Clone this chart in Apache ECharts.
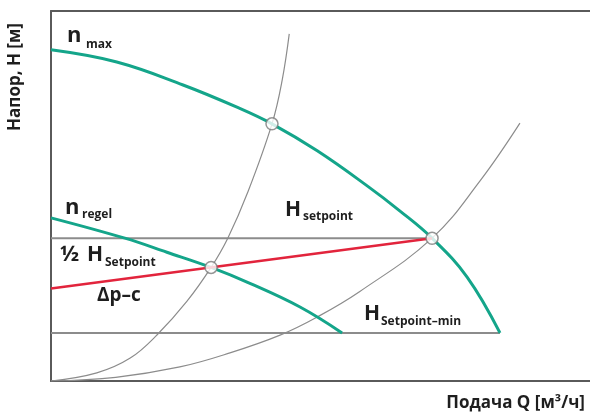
<!DOCTYPE html>
<html><head><meta charset="utf-8">
<script src="https://cdn.jsdelivr.net/npm/echarts@6/dist/echarts.min.js"></script>
<style>html,body{margin:0;padding:0;background:#fff}#chart{width:590px;height:416px}</style>
</head><body><div id="chart"></div>
<script>
// Pump characteristic curves (Q in m³/h, H in m)
const nMaxQ = [0, 1.22, 2.45, 3.45, 4.10, 4.94, 5.86, 6.47, 7.07, 7.72, 8.33];
const nMaxH = [8.95, 8.62, 8.0, 7.40, 6.95, 6.22, 5.28, 4.60, 3.86, 2.81, 1.30];
const nRegelQ = [0, 1.37, 2.15, 2.97, 3.69, 4.62, 5.40];
const nRegelH = [4.41, 3.86, 3.48, 3.07, 2.64, 2.0, 1.30];
// System curves
const sysSteepQ = [0, 0.85, 1.47, 1.97, 2.52, 2.97, 3.28, 3.65, 4.10, 4.29, 4.42];
const sysSteepH = [0, 0.22, 0.62, 1.25, 2.15, 3.07, 3.86, 5.10, 6.95, 8.14, 9.38];
const sysFlatQ = [0, 1.2, 2.39, 3.32, 4.25, 4.94, 5.73, 7.07, 7.96, 8.70];
const sysFlatH = [0, 0.1, 0.38, 0.76, 1.24, 1.73, 2.42, 3.86, 5.41, 6.97];
// Δp-c control line
const dpcQ = [0, 7.07];
const dpcH = [2.5, 3.86];
// Setpoint levels
const hSetpoint = 3.86;
const hSetpointMin = 1.30;
const setpointLineQ = [0, 7.07];
const setpointMinLineQ = [0, 8.33];
// Operating points
const opQ = [4.10, 7.07, 2.97];
const opH = [6.95, 3.86, 3.07];

const zip = (qs, hs) => qs.map((q, i) => [q, hs[i]]);

const GREEN = '#14a58a', RED = '#e2243c', GREY = '#8c8c8c', AXIS = '#5a5a5a', INK = '#1e1e1e';
const FONT = '"Open Sans", "Noto Sans", sans-serif';

function txt(x, y, text, size) {
  return { type: 'text', x: x, y: y, z: 100,
    style: { text: text, fill: INK, font: 'bold ' + size + 'px ' + FONT,
      align: 'left', verticalAlign: 'middle' } };
}

const chart = echarts.init(document.getElementById('chart'), null, { renderer: 'canvas' });
const plainAxis = {
  axisTick: { show: false }, axisLabel: { show: false }, splitLine: { show: false }
};
const frameLine = { show: true, onZero: false, lineStyle: { color: AXIS, width: 2 } };
chart.setOption({
  animation: false,
  backgroundColor: '#ffffff',
  grid: { left: 51, top: 11, right: 0, bottom: 35 },
  xAxis: [
    Object.assign({ type: 'value', min: 0, max: 10, position: 'bottom', axisLine: frameLine }, plainAxis),
    Object.assign({ type: 'value', min: 0, max: 10, position: 'top', axisLine: frameLine }, plainAxis)
  ],
  yAxis: Object.assign({ type: 'value', min: 0, max: 10, axisLine: frameLine }, plainAxis),
  series: [
    { type: 'line', data: setpointLineQ.map(q => [q, hSetpoint]), showSymbol: false,
      lineStyle: { color: GREY, width: 2 }, z: 1 },
    { type: 'line', data: setpointMinLineQ.map(q => [q, hSetpointMin]), showSymbol: false,
      lineStyle: { color: GREY, width: 2 }, z: 1 },
    { type: 'line', data: zip(sysSteepQ, sysSteepH), smooth: 0.4, showSymbol: false,
      lineStyle: { color: GREY, width: 1.2 }, z: 2 },
    { type: 'line', data: zip(sysFlatQ, sysFlatH), smooth: 0.4, showSymbol: false,
      lineStyle: { color: GREY, width: 1.2 }, z: 2 },
    { type: 'line', data: zip(nMaxQ, nMaxH), smooth: 0.4, showSymbol: false,
      lineStyle: { color: GREEN, width: 3 }, z: 3 },
    { type: 'line', data: zip(nRegelQ, nRegelH), smooth: 0.4, showSymbol: false,
      lineStyle: { color: GREEN, width: 3 }, z: 3 },
    { type: 'line', data: zip(dpcQ, dpcH), showSymbol: false,
      lineStyle: { color: RED, width: 2.5 }, z: 4 },
    { type: 'scatter', data: zip(opQ, opH), symbol: 'circle', symbolSize: 12,
      itemStyle: { color: '#ffffff', borderColor: '#7a7a7a', borderWidth: 1.5 }, z: 5 }
  ],
  graphic: [
    txt(67, 36, 'n', 22), txt(86, 45, 'max', 12),
    txt(65, 208, 'n', 22), txt(82, 215, 'regel', 12),
    txt(285, 210, 'H', 21), txt(303, 217, 'setpoint', 12),
    txt(60, 255, '½', 22), txt(87, 255, 'H', 21), txt(105, 263, 'Setpoint', 12),
    txt(97, 296, 'Δp–c', 19),
    txt(364, 314, 'H', 21), txt(381, 322, 'Setpoint–min', 12),
    { type: 'text', x: 15, y: 77, rotation: Math.PI / 2, z: 100,
      style: { text: 'Напор, H [м]', fill: INK, font: 'bold 17px ' + FONT,
        align: 'center', verticalAlign: 'middle' } },
    { type: 'text', x: 585, y: 403, z: 100,
      style: { text: 'Подача Q [м³/ч]', fill: INK, font: 'bold 17px ' + FONT,
        align: 'right', verticalAlign: 'middle' } }
  ]
});
</script>
</body></html>
